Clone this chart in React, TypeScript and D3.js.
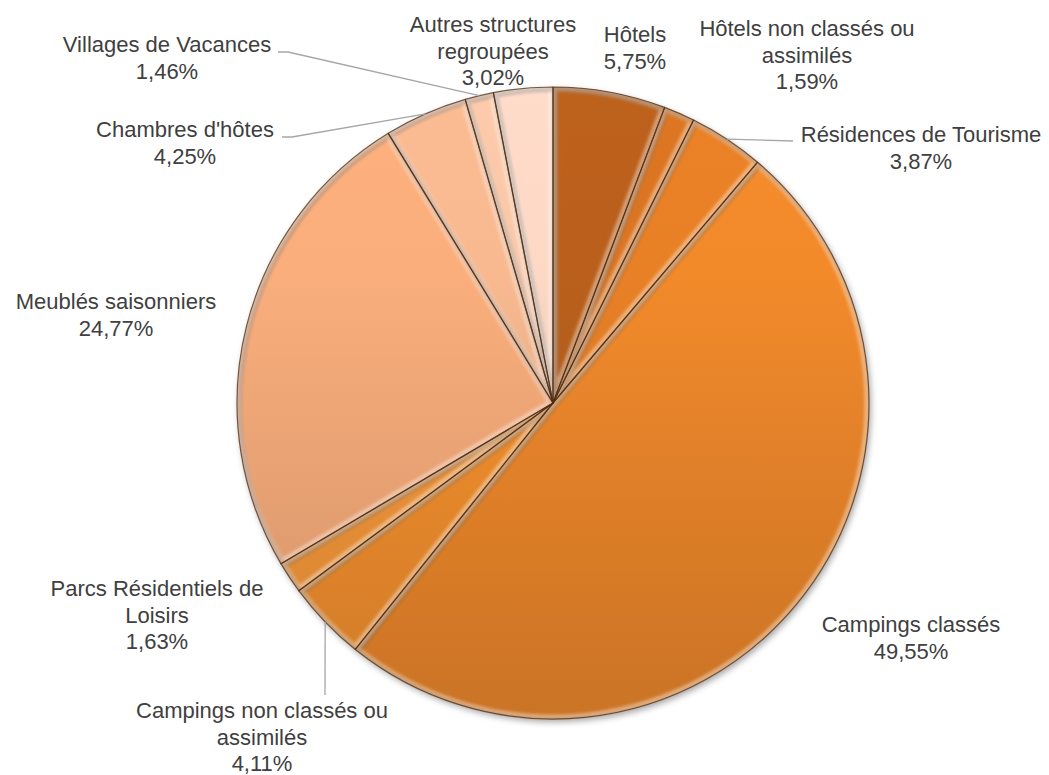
import React from 'react';
import * as d3 from 'd3';

// Répartition de la capacité d'accueil par type d'hébergement (%)
const categories = [
  "Hôtels",
  "Hôtels non classés ou\nassimilés",
  "Résidences de Tourisme",
  "Campings classés",
  "Campings non classés ou\nassimilés",
  "Parcs Résidentiels de\nLoisirs",
  "Meublés saisonniers",
  "Chambres d'hôtes",
  "Villages de Vacances",
  "Autres structures\nregroupées",
];
const values = [5.75, 1.59, 3.87, 49.55, 4.11, 1.63, 24.77, 4.25, 1.46, 3.02];

// palette (teintes d'orange)
const colors = [
  "#BA601E", "#DA7421", "#E88027", "#F28A2C", "#F8922F",
  "#FA9A3C", "#FAAE7C", "#F8B990", "#F9C7A8", "#FCD8C5",
];

// position des étiquettes : centre x, ligne de base de la 1re ligne
const labelPos: [number, number][] = [
  [635, 42], [807, 36], [921, 142], [911, 632], [262, 718],
  [157, 596], [116, 309], [185, 137], [167, 52], [493, 32],
];

// lignes de rappel (extrémité côté étiquette), null = pas de ligne
const leaderEnds: ([number, number][] | null)[] = [
  null, null, [[793, 141]], null, [[325, 695]],
  null, null, [[292, 137], [282, 137]], [[288, 52], [278, 52]], null,
];

const fmt = (v: number) => v.toFixed(2).replace(".", ",") + "%";

export default function App() {
  const width = 1049, height = 775;
  const cx = 553, cy = 403, R = 316;
  const lineH = 26.5;

  const pie = d3.pie<number>().sort(null).value(d => d).startAngle(0).endAngle(2 * Math.PI);
  const arcs = pie(values);
  const arc = d3.arc<d3.PieArcDatum<number>>().innerRadius(0).outerRadius(R);

  const edgePoint = (a: d3.PieArcDatum<number>): [number, number] => {
    const m = (a.startAngle + a.endAngle) / 2;
    return [cx + R * Math.sin(m), cy - R * Math.cos(m)];
  };

  const line = d3.line();

  return (
    <svg width={width} height={height} style={{ position: "absolute", left: 0, top: 0, display: "block" }}
      fontFamily="'Liberation Sans', Arial, sans-serif">
      <defs>
        <filter id="shadow" x="-10%" y="-10%" width="120%" height="120%">
          <feDropShadow dx="2" dy="3" stdDeviation="3" floodColor="#000" floodOpacity="0.35" />
        </filter>
        <filter id="soft">
          <feGaussianBlur stdDeviation="1.4" />
        </filter>
        {/* dégradé vertical, en coordonnées locales (centre du camembert = 0,0) */}
        {colors.map((c, i) => {
          const col = d3.color(c)!;
          return (
            <linearGradient key={i} id={"g" + i} gradientUnits="userSpaceOnUse"
              x1={0} y1={-R} x2={0} y2={R}>
              <stop offset="0" stopColor={col.brighter(0.05).formatHex()} />
              <stop offset="0.3" stopColor={c} />
              <stop offset="1" stopColor={col.darker(0.5).formatHex()} />
            </linearGradient>
          );
        })}
        {arcs.map((a, i) => (
          <clipPath key={i} id={"c" + i}>
            <path d={arc(a)!} transform={`translate(${cx},${cy})`} />
          </clipPath>
        ))}
      </defs>

      <g filter="url(#shadow)">
        {arcs.map((a, i) => (
          <path key={i} d={arc(a)!} transform={`translate(${cx},${cy})`} fill={`url(#g${i})`} />
        ))}
      </g>

      {/* biseau : ombre et reflet à l'intérieur des bords */}
      {arcs.map((a, i) => (
        <g key={i} clipPath={`url(#c${i})`}>
          <path d={arc(a)!} transform={`translate(${cx + 2},${cy + 2})`} fill="none"
            stroke="#000" strokeOpacity={0.3} strokeWidth={5} filter="url(#soft)" />
          <path d={arc(a)!} transform={`translate(${cx},${cy})`} fill="none"
            stroke="#fff" strokeOpacity={0.4} strokeWidth={9} filter="url(#soft)" />
        </g>
      ))}

      {arcs.map((a, i) => (
        <path key={i} d={arc(a)!} transform={`translate(${cx},${cy})`} fill="none"
          stroke="#4f2c12" strokeOpacity={0.75} strokeWidth={1.2} strokeLinejoin="round" />
      ))}

      {arcs.map((a, i) => {
        const ends = leaderEnds[i];
        if (!ends) return null;
        const pts: [number, number][] = [edgePoint(a), ...ends];
        return (
          <path key={i} d={line(pts)!} fill="none" stroke="#A6A6A6" strokeWidth={1.3} />
        );
      })}

      {categories.map((c, i) => {
        const lines = [...c.split("\n"), fmt(values[i])];
        const [x, y] = labelPos[i];
        return (
          <text key={i} x={x} y={y} textAnchor="middle" fontSize={22} fill="#404040">
            {lines.map((l, j) => (
              <tspan key={j} x={x} y={y + j * lineH}>{l}</tspan>
            ))}
          </text>
        );
      })}
    </svg>
  );
}
